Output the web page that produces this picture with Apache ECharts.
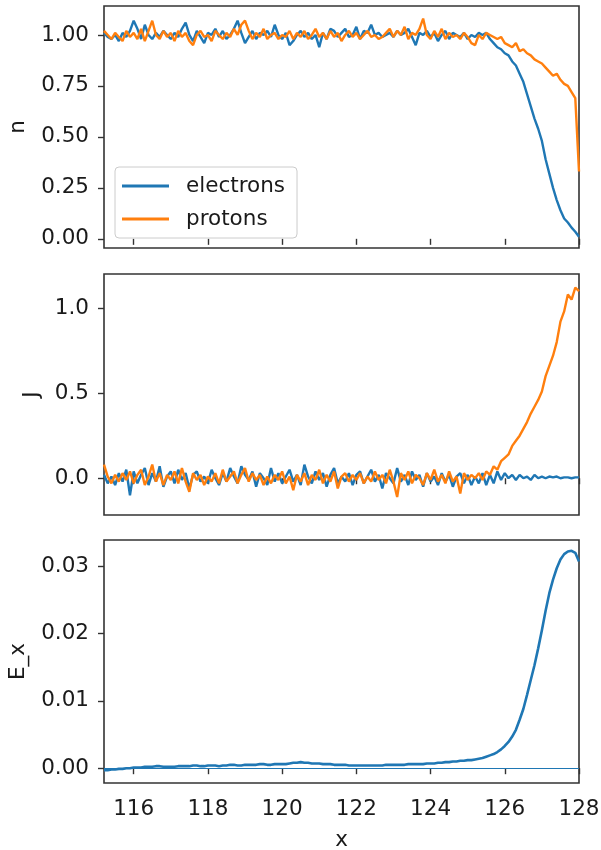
<!DOCTYPE html>
<html>
<head>
<meta charset="utf-8">
<script src="https://cdn.jsdelivr.net/npm/echarts@6/dist/echarts.min.js"></script>
<style>html,body{margin:0;padding:0;background:#fff}#c{width:601px;height:850px}</style>
</head>
<body>
<div id="c"></div>
<script>
// sample grid
const xStart = 115.2, xStep = 0.1, nPts = 129;
const xTicks = [116, 118, 120, 122, 124, 126, 128];
const nTicks = [0, 0.25, 0.5, 0.75, 1.0];
const jTicks = [0, 0.5, 1.0];
const eTicks = [0, 0.01, 0.02, 0.03];

const nElectrons = [
1.01,0.99,0.98,1.00,0.97,1.01,0.99,1.02,1.07,1.03,
0.98,1.05,1.00,0.98,1.01,0.99,1.02,1.00,0.98,1.01,
0.99,1.03,1.06,1.00,0.97,1.02,0.99,0.96,1.01,1.00,
1.03,0.99,1.02,0.98,1.00,1.03,1.07,1.01,0.96,0.99,
1.02,0.98,1.01,1.00,1.02,0.99,1.05,1.00,0.98,1.01,
0.95,0.97,1.00,1.02,0.99,1.01,0.98,1.00,0.94,1.01,
0.98,1.03,1.02,0.99,1.01,1.03,0.99,1.00,1.04,0.98,
1.02,1.01,1.05,1.00,1.01,0.99,1.00,1.01,0.99,1.02,
1.00,1.01,1.03,0.99,0.95,1.01,1.00,1.02,0.99,1.01,
0.97,1.00,1.02,0.98,1.01,1.00,0.99,1.01,0.98,1.00,
0.99,1.01,1.00,1.01,0.98,0.96,0.94,0.93,0.91,0.90,
0.87,0.85,0.81,0.77,0.71,0.65,0.59,0.54,0.48,0.39,
0.32,0.25,0.19,0.14,0.10,0.08,0.055,0.035,0.01];

const nProtons = [
1.02,1.00,0.98,1.01,0.99,0.97,1.02,0.99,1.01,0.98,
1.03,0.97,1.02,1.07,1.00,0.98,1.02,0.99,1.01,0.97,
1.02,0.99,1.01,0.97,0.95,1.00,1.02,0.99,1.00,0.97,
1.02,1.00,0.98,1.01,0.99,1.03,1.00,1.05,1.07,1.02,
0.98,1.01,0.99,1.03,0.98,1.00,1.01,0.98,1.00,0.99,
1.02,0.98,1.01,0.99,1.02,0.98,1.00,1.03,0.99,1.01,
0.98,1.02,0.99,1.01,0.97,1.00,1.02,0.99,1.01,0.98,
1.00,1.02,0.99,1.00,0.98,0.99,1.01,1.03,0.99,1.02,
1.00,1.04,0.98,1.01,1.00,1.03,1.08,1.00,0.98,1.02,
0.99,1.03,0.98,1.01,0.99,1.00,0.98,1.01,0.99,0.96,
0.95,1.00,0.98,1.01,1.00,0.99,0.98,0.99,0.96,0.95,
0.94,0.96,0.92,0.93,0.91,0.90,0.88,0.87,0.86,0.84,
0.82,0.80,0.81,0.78,0.76,0.75,0.72,0.69,0.33];

const jElectrons = [
0.02,-0.03,0.01,-0.04,0.03,-0.02,0.05,-0.10,0.04,-0.03,
0.02,0.06,-0.04,0.03,-0.02,0.07,-0.05,0.01,0.04,-0.03,
0.05,-0.01,0.03,-0.06,0.02,0.04,-0.02,0.01,-0.03,0.05,
0.00,-0.04,0.03,-0.02,0.06,0.01,-0.03,0.07,0.02,-0.01,
0.04,-0.05,0.03,0.00,-0.04,0.06,-0.02,0.03,-0.03,0.01,
0.05,-0.02,0.02,-0.04,0.08,0.01,-0.03,0.04,-0.01,0.03,
-0.05,0.02,0.06,-0.03,0.01,-0.02,0.03,-0.04,0.02,0.04,
-0.03,0.01,0.05,-0.02,0.02,-0.06,0.03,0.00,-0.03,0.06,
-0.02,0.02,-0.04,0.04,-0.01,0.02,-0.05,0.03,-0.02,0.01,
-0.04,0.03,-0.02,0.02,-0.05,0.01,0.03,-0.03,0.02,-0.04,
0.01,-0.03,0.03,-0.04,0.02,-0.03,0.04,-0.01,0.03,0.00,
0.02,-0.01,0.02,0.00,0.01,-0.01,0.02,0.00,0.01,0.00,
0.01,0.005,0.01,0.00,0.005,0.005,0.00,0.005,0.005];

const jProtons = [
0.08,0.01,-0.03,0.02,-0.02,0.03,-0.01,0.04,-0.03,0.02,
0.05,-0.04,0.01,0.08,-0.02,0.03,-0.04,0.02,-0.01,0.04,
-0.03,0.06,-0.02,-0.08,0.03,-0.01,0.02,-0.04,0.01,-0.02,
0.03,-0.03,0.05,-0.02,0.01,0.04,-0.03,0.02,0.06,-0.02,
0.03,-0.01,0.02,-0.04,0.01,-0.03,0.02,-0.01,0.04,-0.03,
0.01,-0.07,0.02,-0.02,0.03,-0.04,0.02,-0.01,0.05,-0.03,
0.02,-0.02,0.04,-0.06,0.01,0.03,-0.02,0.02,-0.01,0.03,
-0.03,0.01,-0.02,0.04,-0.01,0.02,-0.03,0.05,-0.02,-0.11,
0.03,-0.01,0.04,-0.03,0.02,0.00,-0.04,0.03,-0.01,0.05,
-0.02,0.02,-0.03,0.04,-0.02,0.01,-0.09,0.03,-0.01,0.02,
0.00,0.03,-0.01,0.04,0.02,0.07,0.05,0.10,0.12,0.14,
0.19,0.22,0.25,0.29,0.33,0.38,0.42,0.46,0.51,0.60,
0.66,0.72,0.80,0.92,0.98,1.08,1.05,1.12,1.10];

const eX = [
-0.0003,-0.0003,-0.0002,-0.0002,-0.0001,-0.0001,0.0000,0.0000,0.0001,0.0001,
0.0001,0.0002,0.0002,0.0002,0.0003,0.0003,0.0002,0.0002,0.0002,0.0002,
0.0003,0.0003,0.0003,0.0003,0.0004,0.0004,0.0003,0.0003,0.0004,0.0004,
0.0004,0.0003,0.0004,0.0004,0.0005,0.0005,0.0004,0.0004,0.0005,0.0005,
0.0005,0.0005,0.0006,0.0006,0.0005,0.0005,0.0006,0.0006,0.0006,0.0006,
0.0007,0.0008,0.0008,0.0009,0.0008,0.0008,0.0007,0.0007,0.0007,0.0006,
0.0006,0.0006,0.0005,0.0005,0.0005,0.0005,0.0004,0.0004,0.0004,0.0004,
0.0004,0.0004,0.0004,0.0004,0.0004,0.0004,0.0005,0.0005,0.0005,0.0005,
0.0005,0.0005,0.0006,0.0006,0.0006,0.0006,0.0006,0.0007,0.0007,0.0007,
0.0008,0.0008,0.0009,0.0009,0.0010,0.0010,0.0011,0.0011,0.0012,0.0012,
0.0013,0.0014,0.0015,0.0017,0.0019,0.0021,0.0024,0.0028,0.0033,0.0039,
0.0047,0.0057,0.0072,0.0088,0.0109,0.0131,0.0153,0.0178,0.0205,0.0234,
0.0260,0.0280,0.0297,0.0310,0.0318,0.0322,0.0323,0.0320,0.0307];

const xs = [];
for (let i = 0; i < nPts; i++) xs.push(+(xStart + xStep * i).toFixed(2));
const pair = arr => arr.map((v, i) => [xs[i], v]);

const BLUE = '#1f77b4', ORANGE = '#ff7f0e', INK = '#1a1a1a';
const FONT = 'DejaVu Sans';
const FS = 21.5;
const grids = [
  {left: 104, top: 6, width: 475, height: 242},
  {left: 104, top: 274, width: 475, height: 241},
  {left: 104, top: 540, width: 475, height: 243}
].map(g => Object.assign(g, {show: true, borderColor: '#333', borderWidth: 1.6, backgroundColor: '#fff',
  containLabel: false, outerBoundsMode: 'none'}));

function xAxisFor(i, showLabels) {
  const ax = {
    type: 'value', gridIndex: i, min: 115.2, max: 128,
    axisLine: {show: false}, splitLine: {show: false},
    axisTick: {show: true, length: 6, lineStyle: {color: '#333', width: 1.4}, customValues: xTicks},
    axisLabel: {show: showLabels, customValues: xTicks, margin: 15, color: INK, fontSize: FS, fontFamily: FONT}
  };
  if (showLabels) {
    ax.name = 'x'; ax.nameLocation = 'middle'; ax.nameGap = 46;
    ax.nameTextStyle = {color: INK, fontSize: FS, fontFamily: FONT};
  }
  return ax;
}
function yAxisFor(i, min, max, ticks, dec, name, gap) {
  return {
    type: 'value', gridIndex: i, min: min, max: max,
    axisLine: {show: false}, splitLine: {show: false},
    axisTick: {show: true, length: 6, lineStyle: {color: '#333', width: 1.4}, customValues: ticks},
    axisLabel: {customValues: ticks, margin: 15, color: INK, fontSize: FS, fontFamily: FONT,
      formatter: v => v.toFixed(dec)},
    name: name, nameLocation: 'middle', nameRotate: 90, nameGap: gap,
    nameTextStyle: {color: INK, fontSize: FS, fontFamily: FONT}
  };
}

const lineBase = {type: 'line', showSymbol: false, symbol: 'none', silent: true, animation: false};

const option = {
  animation: false,
  backgroundColor: '#fff',
  grid: grids,
  xAxis: [xAxisFor(0, false), xAxisFor(1, false), xAxisFor(2, true)],
  yAxis: [
    yAxisFor(0, -0.045, 1.142, nTicks, 2, 'n', 75),
    yAxisFor(1, -0.216, 1.20, jTicks, 1, 'J', 61),
    yAxisFor(2, -0.0022, 0.0339, eTicks, 2, 'E_x', 75)
  ],
  legend: {
    orient: 'vertical', left: 115, top: 167,
    data: [{name: 'electrons', icon: 'rect'}, {name: 'protons', icon: 'rect'}],
    itemWidth: 47, itemHeight: 3, itemGap: 11,
    padding: [8, 12, 8, 7],
    borderColor: '#ccc', borderWidth: 1, borderRadius: 4, backgroundColor: 'rgba(255,255,255,0.85)',
    textStyle: {fontSize: FS, fontFamily: FONT, color: INK, padding: [0, 0, 0, 12]}
  },
  series: [
    Object.assign({}, lineBase, {name: 'electrons', xAxisIndex: 0, yAxisIndex: 0, data: pair(nElectrons), color: BLUE, lineStyle: {color: BLUE, width: 2.4}}),
    Object.assign({}, lineBase, {name: 'protons', xAxisIndex: 0, yAxisIndex: 0, data: pair(nProtons), color: ORANGE, lineStyle: {color: ORANGE, width: 2.4}}),
    Object.assign({}, lineBase, {name: 'electrons', xAxisIndex: 1, yAxisIndex: 1, data: pair(jElectrons), color: BLUE, lineStyle: {color: BLUE, width: 2.4}}),
    Object.assign({}, lineBase, {name: 'protons', xAxisIndex: 1, yAxisIndex: 1, data: pair(jProtons), color: ORANGE, lineStyle: {color: ORANGE, width: 2.4}}),
    Object.assign({}, lineBase, {name: 'E_x', xAxisIndex: 2, yAxisIndex: 2, data: pair(eX), color: BLUE, lineStyle: {color: BLUE, width: 2.6},
      markLine: {silent: true, symbol: 'none', label: {show: false}, animation: false,
        lineStyle: {color: BLUE, width: 1, type: 'solid'}, data: [{yAxis: 0}]}})
  ]
};
echarts.init(document.getElementById('c'), null, {renderer: 'canvas'}).setOption(option);
</script>
</body>
</html>
